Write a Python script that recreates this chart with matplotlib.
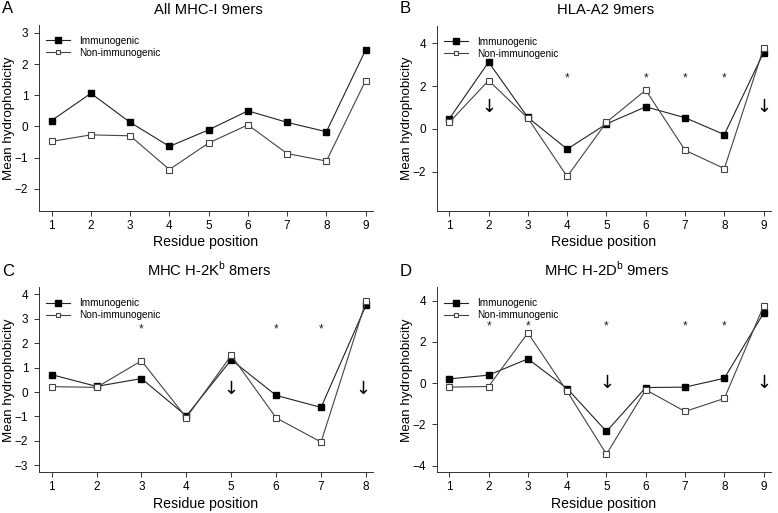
import matplotlib
matplotlib.use("Agg")
import matplotlib.pyplot as plt

plt.rcParams['font.family'] = ['Liberation Sans', 'DejaVu Sans']
plt.rcParams['mathtext.fontset'] = 'custom'
plt.rcParams['mathtext.rm'] = 'Liberation Sans'

# Panel A: All MHC-I 9mers
pos_a = [1, 2, 3, 4, 5, 6, 7, 8, 9]
imm_a = [0.19, 1.06, 0.13, -0.64, -0.11, 0.50, 0.13, -0.17, 2.45]
non_a = [-0.48, -0.27, -0.30, -1.38, -0.53, 0.05, -0.87, -1.11, 1.47]
stars_a = []
arrows_a = []

# Panel B: HLA-A2 9mers
pos_b = [1, 2, 3, 4, 5, 6, 7, 8, 9]
imm_b = [0.47, 3.12, 0.53, -0.95, 0.23, 1.03, 0.52, -0.27, 3.57]
non_b = [0.30, 2.26, 0.50, -2.23, 0.31, 1.81, -1.00, -1.86, 3.78]
stars_b = [4, 6, 7, 8]
arrows_b = [2, 9]

# Panel C: MHC H-2Kb 8mers
pos_c = [1, 2, 3, 4, 5, 6, 7, 8]
imm_c = [0.71, 0.23, 0.55, -0.98, 1.32, -0.14, -0.63, 3.55]
non_c = [0.22, 0.19, 1.28, -1.05, 1.50, -1.06, -2.05, 3.72]
stars_c = [3, 6, 7]
arrows_c = [5, 7.93]

# Panel D: MHC H-2Db 9mers
pos_d = [1, 2, 3, 4, 5, 6, 7, 8, 9]
imm_d = [0.21, 0.39, 1.18, -0.26, -2.34, -0.21, -0.19, 0.24, 3.40]
non_d = [-0.19, -0.16, 2.44, -0.40, -3.44, -0.32, -1.37, -0.74, 3.74]
stars_d = [2, 3, 5, 7, 8]
arrows_d = [5, 9]

panels = [
    dict(letter="A", title="All MHC-I 9mers", pos=pos_a, imm=imm_a, non=non_a,
         stars=stars_a, arrows=arrows_a, yticks=[-2, -1, 0, 1, 2, 3],
         ylim=(-2.7, 3.25), xlim=(0.685, 9.18), star_y=None, arrow_y=None,
         rect=(39.3, 25.0, 372.7, 210.7), title_base=13.5, title_x=208.5),
    dict(letter="B", title="HLA-A2 9mers", pos=pos_b, imm=imm_b, non=non_b,
         stars=stars_b, arrows=arrows_b, yticks=[-2, 0, 2, 4],
         ylim=(-3.83, 4.81), xlim=(0.695, 9.18), star_y=2.37, arrow_y=1.04,
         rect=(437.3, 26.0, 770.7, 210.7), title_base=13.5, title_x=606),
    dict(letter="C", title=r"MHC H-2K$^{\mathregular{b}}$ 8mers", pos=pos_c, imm=imm_c, non=non_c,
         stars=stars_c, arrows=arrows_c, yticks=[-3, -2, -1, 0, 1, 2, 3, 4],
         ylim=(-3.29, 4.29), xlim=(0.725, 8.15), star_y=2.56, arrow_y=0.14,
         rect=(39.3, 287.3, 372.7, 472.3), title_base=276, title_x=208.7),
    dict(letter="D", title=r"MHC H-2D$^{\mathregular{b}}$ 9mers", pos=pos_d, imm=imm_d, non=non_d,
         stars=stars_d, arrows=arrows_d, yticks=[-4, -2, 0, 2, 4],
         ylim=(-4.32, 4.65), xlim=(0.695, 9.18), star_y=2.77, arrow_y=0.0,
         rect=(437.3, 287.3, 770.7, 472.3), title_base=276, title_x=606.3),
]

W, H = 778, 513
fig = plt.figure(figsize=(W / 100, H / 100), dpi=100)

for p in panels:
    x0, y0, x1, y1 = p["rect"]
    ax = fig.add_axes([x0 / W, 1 - y1 / H, (x1 - x0) / W, (y1 - y0) / H])
    ax.plot(p["pos"], p["imm"], color="#222222", lw=0.8, marker="s", ms=4.6,
            mfc="black", mec="black", label="Immunogenic", zorder=3)
    ax.plot(p["pos"], p["non"], color="#444444", lw=0.8, marker="s", ms=4.1,
            mfc="white", mec="#444444", mew=0.8, label="Non-immunogenic", zorder=3)
    for s in p["stars"]:
        ax.text(s, p["star_y"], "*", ha="center", va="center", fontsize=8.5, color="#222222")
    for a in p["arrows"]:
        ax.text(a, p["arrow_y"], "\u2193", ha="center", va="center", fontsize=13,
                color="black", family="DejaVu Sans")
    ax.set_xlim(*p["xlim"])
    ax.set_ylim(*p["ylim"])
    ax.set_xticks(p["pos"])
    ax.set_yticks(p["yticks"])
    ax.tick_params(direction="out", length=3.3, width=0.7, labelsize=8.5,
                   color="#333333")
    ax.tick_params(axis="x", pad=3.2)
    ax.tick_params(axis="y", pad=4.6)
    for side in ("top", "right"):
        ax.spines[side].set_visible(False)
    for side in ("left", "bottom"):
        ax.spines[side].set_linewidth(0.7)
        ax.spines[side].set_color("#333333")
    ax.set_xlabel("Residue position", fontsize=10.2, labelpad=2.6)
    ax.set_ylabel("Mean hydrophobicity", fontsize=9.6)
    ax.yaxis.set_label_coords((15.4 - 39.3) / (x1 - x0), 0.5)
    ax.legend(loc="upper left", frameon=False, fontsize=7.2, handlelength=2.4,
              handletextpad=0.9, labelspacing=0.2, borderaxespad=0.3,
              markerscale=0.8, bbox_to_anchor=(0.0, 0.98))
    fig.text(p["title_x"] / W, 1 - p["title_base"] / H, p["title"], ha="center",
             va="baseline", fontsize=10.6)
    fig.text((x0 - 37.6) / W, 1 - (p["title_base"] - 0.5) / H, p["letter"],
             ha="left", va="baseline", fontsize=12)

fig.savefig("out.png", dpi=100)
